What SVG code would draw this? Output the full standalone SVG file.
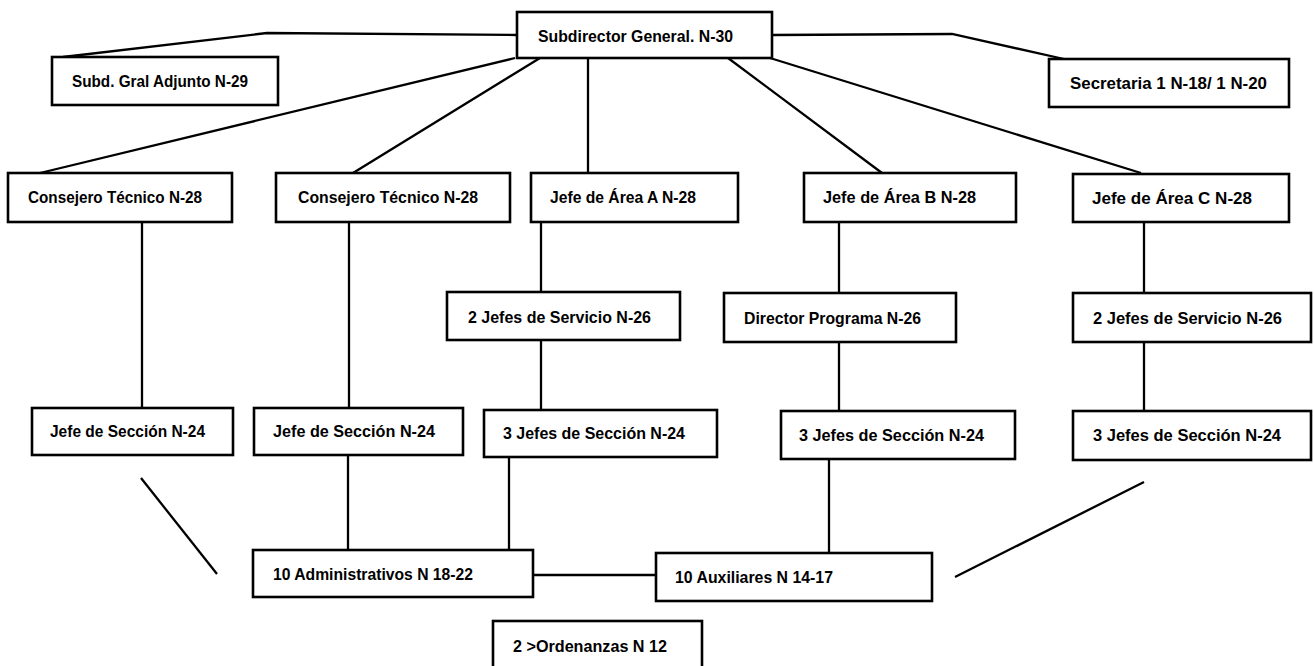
<svg xmlns="http://www.w3.org/2000/svg" width="1314" height="666" viewBox="0 0 1314 666">
<style>
.box{fill:#fff;stroke:#000;stroke-width:2.6}
.lbl{font-family:"Liberation Sans",Arial,sans-serif;font-weight:bold;font-size:17px;fill:#000}
.ln{fill:none;stroke:#000;stroke-width:2.3}
</style>
<rect width="1314" height="666" fill="#fff"/>
<g id="connectors">
<polyline class="ln" points="517,35 267,33 63,57"/>
<polyline class="ln" points="772,35 952,34 1064,59"/>
<line class="ln" x1="515" y1="58" x2="40" y2="173"/>
<line class="ln" x1="540" y1="58" x2="353" y2="173"/>
<line class="ln" x1="588" y1="58" x2="588" y2="173"/>
<line class="ln" x1="728" y1="58" x2="882" y2="173"/>
<line class="ln" x1="770" y1="58" x2="1141" y2="173"/>
<line class="ln" x1="142" y1="222" x2="142" y2="408"/>
<line class="ln" x1="349" y1="222" x2="349" y2="408"/>
<line class="ln" x1="541" y1="222" x2="541" y2="292"/>
<line class="ln" x1="541" y1="340" x2="541" y2="410"/>
<line class="ln" x1="839" y1="222" x2="839" y2="293"/>
<line class="ln" x1="839" y1="342" x2="839" y2="411"/>
<line class="ln" x1="1144" y1="222" x2="1144" y2="293"/>
<line class="ln" x1="1144" y1="342" x2="1144" y2="411"/>
<line class="ln" x1="348" y1="455" x2="348" y2="550"/>
<line class="ln" x1="509" y1="457" x2="509" y2="550"/>
<line class="ln" x1="829" y1="459" x2="829" y2="553"/>
<line class="ln" x1="533" y1="575" x2="656" y2="575"/>
<line class="ln" x1="141" y1="478" x2="217" y2="574"/>
<line class="ln" x1="1144" y1="482" x2="955" y2="577"/>
</g>
<g id="n-subdirector"><rect class="box" x="517" y="12" width="255" height="46"/><text class="lbl" x="538" y="42" textLength="195" lengthAdjust="spacingAndGlyphs">Subdirector General. N-30</text></g>
<g id="n-adjunto"><rect class="box" x="52" y="57" width="226" height="48"/><text class="lbl" x="72" y="87" textLength="176" lengthAdjust="spacingAndGlyphs">Subd. Gral Adjunto N-29</text></g>
<g id="n-secretaria"><rect class="box" x="1049" y="59" width="240" height="48"/><text class="lbl" x="1070" y="89" textLength="197" lengthAdjust="spacingAndGlyphs">Secretaria 1 N-18/ 1 N-20</text></g>
<g id="n-consejero1"><rect class="box" x="8" y="173" width="224" height="49"/><text class="lbl" x="28" y="203" textLength="174" lengthAdjust="spacingAndGlyphs">Consejero Técnico N-28</text></g>
<g id="n-consejero2"><rect class="box" x="276" y="173" width="234" height="49"/><text class="lbl" x="298" y="203" textLength="180" lengthAdjust="spacingAndGlyphs">Consejero Técnico N-28</text></g>
<g id="n-areaA"><rect class="box" x="531" y="173" width="207" height="49"/><text class="lbl" x="550" y="203" textLength="146" lengthAdjust="spacingAndGlyphs">Jefe de Área A N-28</text></g>
<g id="n-areaB"><rect class="box" x="804" y="173" width="212" height="49"/><text class="lbl" x="823" y="203" textLength="153" lengthAdjust="spacingAndGlyphs">Jefe de Área B N-28</text></g>
<g id="n-areaC"><rect class="box" x="1073" y="174" width="216" height="48"/><text class="lbl" x="1092" y="204" textLength="160" lengthAdjust="spacingAndGlyphs">Jefe de Área C N-28</text></g>
<g id="n-servicioA"><rect class="box" x="447" y="292" width="233" height="48"/><text class="lbl" x="468" y="323" textLength="183" lengthAdjust="spacingAndGlyphs">2 Jefes de Servicio N-26</text></g>
<g id="n-programa"><rect class="box" x="724" y="293" width="232" height="49"/><text class="lbl" x="744" y="324" textLength="177" lengthAdjust="spacingAndGlyphs">Director Programa N-26</text></g>
<g id="n-servicioC"><rect class="box" x="1073" y="293" width="238" height="49"/><text class="lbl" x="1093" y="324" textLength="189" lengthAdjust="spacingAndGlyphs">2 Jefes de Servicio N-26</text></g>
<g id="n-seccion1"><rect class="box" x="32" y="408" width="201" height="47"/><text class="lbl" x="50" y="437" textLength="155" lengthAdjust="spacingAndGlyphs">Jefe de Sección N-24</text></g>
<g id="n-seccion2"><rect class="box" x="254" y="408" width="209" height="47"/><text class="lbl" x="273" y="437" textLength="162" lengthAdjust="spacingAndGlyphs">Jefe de Sección N-24</text></g>
<g id="n-seccionA"><rect class="box" x="484" y="410" width="233" height="47"/><text class="lbl" x="503" y="439" textLength="182" lengthAdjust="spacingAndGlyphs">3 Jefes de Sección N-24</text></g>
<g id="n-seccionB"><rect class="box" x="781" y="411" width="234" height="48"/><text class="lbl" x="799" y="441" textLength="185" lengthAdjust="spacingAndGlyphs">3 Jefes de Sección N-24</text></g>
<g id="n-seccionC"><rect class="box" x="1073" y="411" width="238" height="49"/><text class="lbl" x="1093" y="441" textLength="188" lengthAdjust="spacingAndGlyphs">3 Jefes de Sección N-24</text></g>
<g id="n-administrativos"><rect class="box" x="253" y="550" width="280" height="47"/><text class="lbl" x="273" y="580" textLength="200" lengthAdjust="spacingAndGlyphs">10 Administrativos N 18-22</text></g>
<g id="n-auxiliares"><rect class="box" x="656" y="553" width="276" height="48"/><text class="lbl" x="675" y="583" textLength="158" lengthAdjust="spacingAndGlyphs">10 Auxiliares N 14-17</text></g>
<g id="n-ordenanzas"><rect class="box" x="493" y="621" width="209" height="50"/><text class="lbl" x="513" y="652" textLength="154" lengthAdjust="spacingAndGlyphs">2 &gt;Ordenanzas N 12</text></g>
</svg>
